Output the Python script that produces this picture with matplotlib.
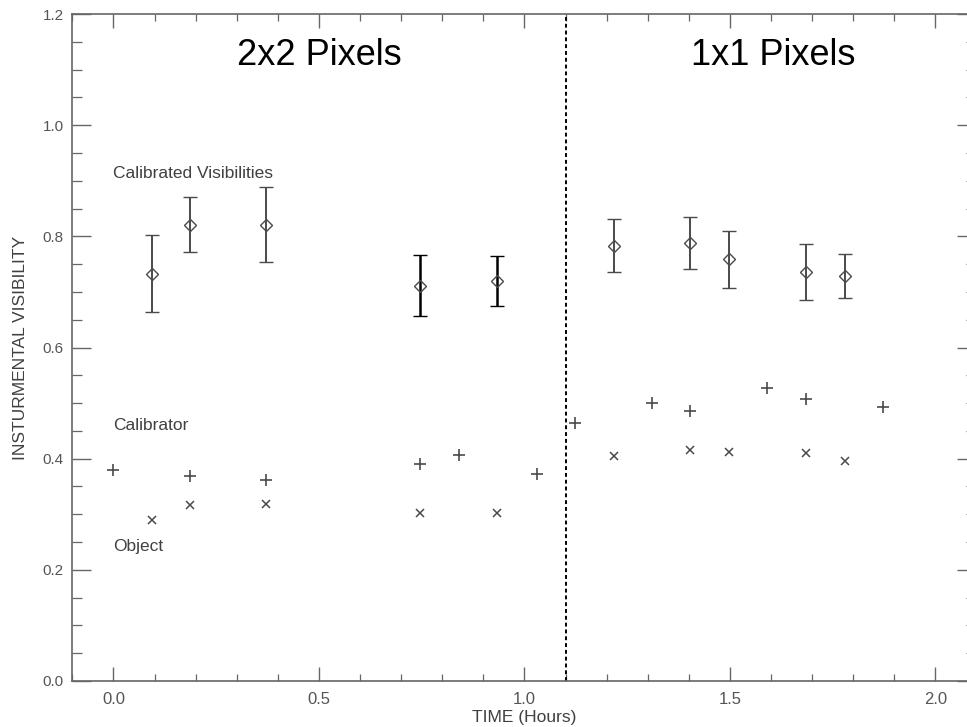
import numpy as np
import matplotlib
matplotlib.use('Agg')
import matplotlib.pyplot as plt
from matplotlib.ticker import MultipleLocator, FormatStrFormatter

plt.rcParams['font.family'] = ['Liberation Sans', 'DejaVu Sans']

# calibrated visibilities (diamonds with error bars)
cal_t = [0.093, 0.186, 0.372, 0.747, 0.934, 1.217, 1.404, 1.499, 1.686, 1.779]
cal_v = [0.733, 0.820, 0.820, 0.711, 0.720, 0.783, 0.788, 0.759, 0.736, 0.729]
cal_hi = [0.803, 0.871, 0.889, 0.767, 0.764, 0.832, 0.835, 0.810, 0.786, 0.768]
cal_lo = [0.664, 0.771, 0.753, 0.657, 0.674, 0.736, 0.742, 0.707, 0.686, 0.689]

# calibrator star (+)
calib_t = [0.0, 0.186, 0.372, 0.747, 0.840, 1.030, 1.122, 1.310, 1.404, 1.590, 1.686, 1.873]
calib_v = [0.379, 0.368, 0.361, 0.390, 0.407, 0.372, 0.464, 0.500, 0.486, 0.528, 0.507, 0.493]

# object (x)
obj_t = [0.093, 0.186, 0.372, 0.747, 0.934, 1.217, 1.404, 1.499, 1.686, 1.779]
obj_v = [0.289, 0.316, 0.319, 0.303, 0.303, 0.405, 0.415, 0.412, 0.411, 0.395]

split_t = 1.1
grey = '#4a4a4a'
txt = '#404040'

fig = plt.figure(figsize=(9.67, 7.27), dpi=100)
ax = fig.add_axes([0.0748, 0.0633, 0.935, 0.9174])

cal_t = np.array(cal_t)
cal_v = np.array(cal_v)
err_lo = cal_v - np.array(cal_lo)
err_hi = np.array(cal_hi) - cal_v
dark = (cal_t > 0.7) & (cal_t < 1.0)
for mask, col, lw in [(~dark, grey, 1.4), (dark, 'black', 1.8)]:
    ax.errorbar(cal_t[mask], cal_v[mask],
                yerr=[err_lo[mask], err_hi[mask]],
                fmt='D', ms=6, mfc='none', mec=grey, mew=1.0,
                ecolor=col, elinewidth=lw, capsize=4.7, capthick=1.4)

ax.plot(calib_t, calib_v, '+', color=grey, ms=8, mew=1.2)
ax.plot(obj_t, obj_v, 'x', color=grey, ms=6, mew=1.1)

ax.axvline(split_t, color='black', ls=(0, (2, 1.5)), lw=1.4)

ax.text(0.0, 0.913, 'Calibrated Visibilities', fontsize=12.5, color=txt, va='center')
ax.text(0.0, 0.46, 'Calibrator', fontsize=12.5, color=txt, va='center')
ax.text(0.0, 0.242, 'Object', fontsize=12.5, color=txt, va='center')

ax.text(0.50, 1.126, '2x2 Pixels', fontsize=26, ha='center', va='center')
ax.text(1.605, 1.126, '1x1 Pixels', fontsize=26, ha='center', va='center')

ax.set_xlim(-0.1, 2.1)
ax.set_ylim(0.0, 1.2)
ax.xaxis.set_major_locator(MultipleLocator(0.5))
ax.xaxis.set_minor_locator(MultipleLocator(0.1))
ax.yaxis.set_major_locator(MultipleLocator(0.2))
ax.yaxis.set_minor_locator(MultipleLocator(0.05))
ax.xaxis.set_major_formatter(FormatStrFormatter('%.1f'))
ax.yaxis.set_major_formatter(FormatStrFormatter('%.1f'))

ax.tick_params(which='both', direction='in', top=True, right=True,
               labelcolor='#555555', color='#666666')
ax.tick_params(axis='x', which='major', length=10, width=1.0, pad=8, labelsize=12)
ax.tick_params(axis='x', which='minor', length=5, width=0.9)
ax.tick_params(axis='y', which='major', length=14, width=1.0, pad=6, labelsize=11)
ax.tick_params(axis='y', which='minor', length=7, width=0.9)
for s in ax.spines.values():
    s.set_color('#666666')
    s.set_linewidth(1.2)

ax.set_xlabel('TIME (Hours)', fontsize=12.5, color=txt, labelpad=2)
ax.set_ylabel('INSTURMENTAL VISIBILITY', fontsize=12.5, color=txt, labelpad=11)

fig.savefig('out.png', dpi=100)
